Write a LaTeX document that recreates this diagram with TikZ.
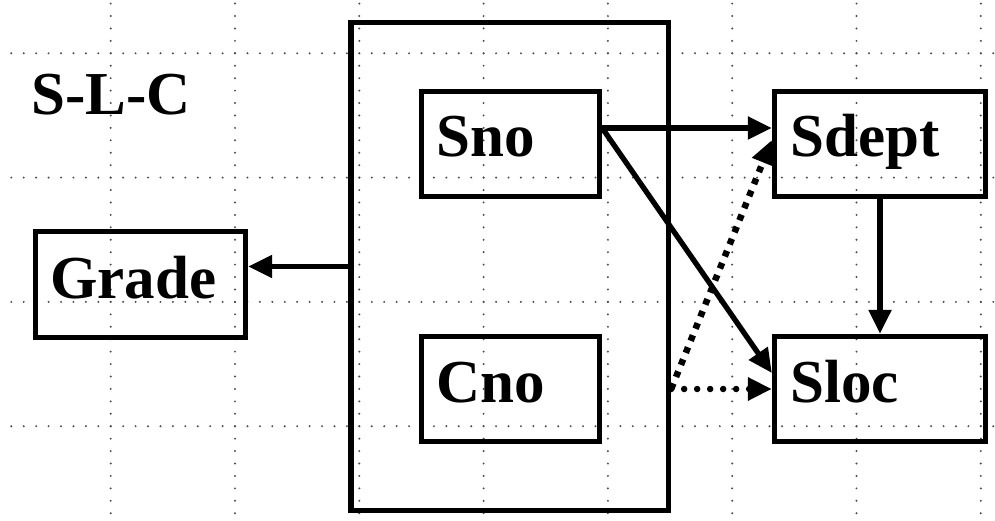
\documentclass[tikz,border=0pt]{standalone}
\usepackage{fontspec}
\setmainfont{Liberation Serif}
\usetikzlibrary{arrows.meta,calc}
\begin{document}
\begin{tikzpicture}[x=1pt,y=-1pt,
  gridline/.style={draw=black!70,line width=2.2pt,line cap=round,dash pattern=on 0pt off 12.43pt},
  box/.style={draw,line width=5.3pt,rectangle,inner sep=0pt},
  lbl/.style={anchor=base west,inner sep=0pt,font=\fontsize{61}{61}\selectfont\bfseries},
  tipstyle/.style={-{Triangle[length=24pt,width=22pt]}},
  arr/.style={line width=5.3pt,tipstyle},
  dotarr/.style={line width=6.5pt,tipstyle}]
\useasboundingbox (0,0) rectangle (995,521);
% grid
\foreach \gy in {53.3,177.6,301.9,426.2}
  \draw[gridline] (11.3,\gy) -- (995,\gy);
\foreach \k in {0,...,7}
  \draw[gridline] ({110.7+124.3*\k},3.6) -- ({110.7+124.3*\k},521);
% boxes
\node[box,minimum width=317.5pt,minimum height=488pt] (big) at (509.75,266.5) {};
\node[box,minimum width=210pt,minimum height=106pt] (grade) at (140.5,284.5) {};
\node[box,minimum width=178pt,minimum height=105pt] (sno) at (510.5,144) {};
\node[box,minimum width=178pt,minimum height=105pt] (cno) at (510.5,389) {};
\node[box,minimum width=211pt,minimum height=105pt] (sdept) at (880,144) {};
\node[box,minimum width=211pt,minimum height=105pt] (sloc) at (880,389) {};
% labels
\node[lbl] (slcT) at (31,115) {S-L-C};
\node[lbl] (gradeT) at (50,298) {Grade};
\node[lbl] (snoT) at (436,157) {Sno};
\node[lbl] (cnoT) at (436,402) {Cno};
\node[lbl] (sdeptT) at (790,157) {Sdept};
\node[lbl] (slocT) at (790,402) {Sloc};
% connectors
\coordinate (snoOut) at ([yshift=16pt]sno.east);
\draw[arr] (snoOut) -- ([yshift=16pt]sdept.west);
\draw[arr] (snoOut) -- ([yshift=16pt]sloc.west);
\draw[arr] (big.west) -- (big.west -| grade.east);
\draw[arr] (sdept.south) -- (sloc.north);
\coordinate (dotSrc) at (big.east |- sloc.west);
\draw[dotarr,line cap=round,dash pattern=on 0pt off 13pt] (dotSrc) -- (sloc.west);
\draw[dotarr,dash pattern=on 6pt off 7pt] (dotSrc) -- ([yshift=4pt]sdept.west);
\end{tikzpicture}
\end{document}
